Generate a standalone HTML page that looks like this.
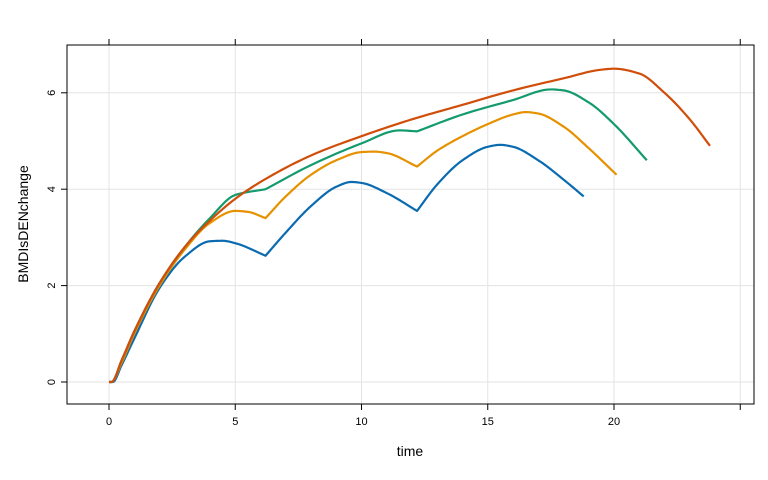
<!DOCTYPE html>
<html><head><meta charset="utf-8"><style>
body{margin:0;background:#fff;}
svg{display:block;font-family:"Liberation Sans",Arial,sans-serif;}
</style></head><body>
<svg id="chart" width="768" height="480"></svg>
<script>
const xTicks=[0,5,10,15,20,25];
const yTicks=[0,2,4,6];
const seriesNames=["blue","orange","green","red"];
const seriesColors=["#0a6bb0","#e69100","#139a6e","#d04e0a"];
const blueT=[0,0.15,0.5,1,2,3,4,4.5,5,6.2,7,8,9,9.6,10,11,12.2,13,14,15,15.5,16,17,18,18.8];
const blueY=[0,0,0.35,0.9,1.95,2.6,2.92,2.93,2.88,2.62,3.1,3.65,4.05,4.15,4.13,3.92,3.55,4.1,4.6,4.88,4.92,4.88,4.6,4.2,3.85];
const orangeT=[0,0.1,0.5,1,2,3,4,5,5.5,6.2,7,8,9,10,10.5,11,12.2,13,14,15,16,16.5,17,18,19,20.1];
const orangeY=[0,0,0.4,1.0,2.0,2.75,3.3,3.55,3.53,3.4,3.85,4.3,4.6,4.77,4.78,4.75,4.47,4.8,5.1,5.35,5.55,5.6,5.57,5.3,4.85,4.3];
const greenT=[0,0.1,0.5,1,2,3,4,5,6.2,8,10,11.5,12.2,14,16,17.5,18,19,20,21.3];
const greenY=[0,0,0.45,1.05,2.05,2.8,3.4,3.88,4.0,4.5,4.95,5.22,5.2,5.55,5.85,6.07,6.05,5.8,5.35,4.6];
const redT=[0,0.1,0.5,1,2,3,4,5,6,8,10,12,14,16,18,19.5,20,21,22,23,23.8];
const redY=[0,0,0.45,1.05,2.05,2.8,3.35,3.8,4.15,4.7,5.1,5.45,5.75,6.05,6.3,6.48,6.5,6.4,6.0,5.45,4.9];
const doseTimes=[6.2,12.2];
const seriesT=[blueT,orangeT,greenT,redT];
const seriesY=[blueY,orangeY,greenY,redY];

const L=67,R=754,T=45,B=404;
const x=v=>109+v*25.25;
const y=v=>382-v*48.2;
const NS="http://www.w3.org/2000/svg";
const svg=document.getElementById('chart');
function mk(tag,attrs,parent){const e=document.createElementNS(NS,tag);for(const k in attrs)e.setAttribute(k,attrs[k]);(parent||svg).appendChild(e);return e;}

xTicks.forEach(t=>{const g=mk('line',{x1:x(t),x2:x(t),y1:T,y2:B,stroke:'#e3e3e3','stroke-width':1});

});
yTicks.forEach(t=>{const g=mk('line',{x1:L,x2:R,y1:y(t),y2:y(t),stroke:'#e3e3e3','stroke-width':1});

});

// monotone cubic interpolation per segment, segments split at dose times (kinks)
function monoPts(ts,ys){
  const n=ts.length,pts=[];
  if(n<2){return ts.map((t,i)=>[t,ys[i]]);}
  const d=[],m=[];
  for(let i=0;i<n-1;i++)d.push((ys[i+1]-ys[i])/(ts[i+1]-ts[i]));
  m[0]=d[0];m[n-1]=d[n-2];
  for(let i=1;i<n-1;i++){
    if(d[i-1]*d[i]<=0)m[i]=0;
    else{const h0=ts[i]-ts[i-1],h1=ts[i+1]-ts[i];const w1=2*h1+h0,w2=h1+2*h0;m[i]=(w1+w2)/(w1/d[i-1]+w2/d[i]);}
  }
  for(let i=0;i<n-1;i++){
    const h=ts[i+1]-ts[i];
    for(let k=0;k<12;k++){
      const s=k/12,h00=2*s*s*s-3*s*s+1,h10=s*s*s-2*s*s+s,h01=-2*s*s*s+3*s*s,h11=s*s*s-s*s;
      pts.push([ts[i]+s*h,h00*ys[i]+h10*h*m[i]+h01*ys[i+1]+h11*h*m[i+1]]);
    }
  }
  pts.push([ts[n-1],ys[n-1]]);
  return pts;
}
function pathFor(ts,ys){
  let all=[],segT=[],segY=[];
  ts.forEach((t,i)=>{
    segT.push(t);segY.push(ys[i]);
    if(doseTimes.some(dt=>Math.abs(dt-t)<1e-6)&&i>0&&i<ts.length-1){
      all=all.concat(monoPts(segT,segY));segT=[t];segY=[ys[i]];
    }
  });
  all=all.concat(monoPts(segT,segY));
  return 'M'+all.map(p=>x(p[0]).toFixed(2)+','+y(p[1]).toFixed(2)).join(' L');
}
seriesT.forEach((ts,i)=>{
  const pth=mk('path',{d:pathFor(ts,seriesY[i]),fill:'none',stroke:seriesColors[i],'stroke-width':2.2,'stroke-linejoin':'round'});
  
  
});

const fr=mk('rect',{x:L,y:T,width:R-L,height:B-T,fill:'none',stroke:'#000','stroke-width':1});



xTicks.forEach(t=>{
  mk('line',{x1:x(t),x2:x(t),y1:B,y2:B+6,stroke:'#000'});
  mk('line',{x1:x(t),x2:x(t),y1:T,y2:T-6,stroke:'#000'});
  if(t<25){const lb=mk('text',{x:x(t),y:B+21,'font-size':11,'text-anchor':'middle'});lb.textContent=t;
  
  }
});
yTicks.forEach(t=>{
  mk('line',{x1:L,x2:L-6,y1:y(t),y2:y(t),stroke:'#000'});
  const lb=mk('text',{x:L-12,y:y(t),'font-size':11,'text-anchor':'middle',transform:`rotate(-90 ${L-12} ${y(t)})`});
  lb.textContent=t;
  
  
});
const xt=mk('text',{x:410,y:456,'font-size':14,'text-anchor':'middle'});xt.textContent='time';


const yt=mk('text',{x:28,y:224,'font-size':14,'text-anchor':'middle',transform:'rotate(-90 28 224)'});yt.textContent='BMDIsDENchange';


</script>
</body></html>
